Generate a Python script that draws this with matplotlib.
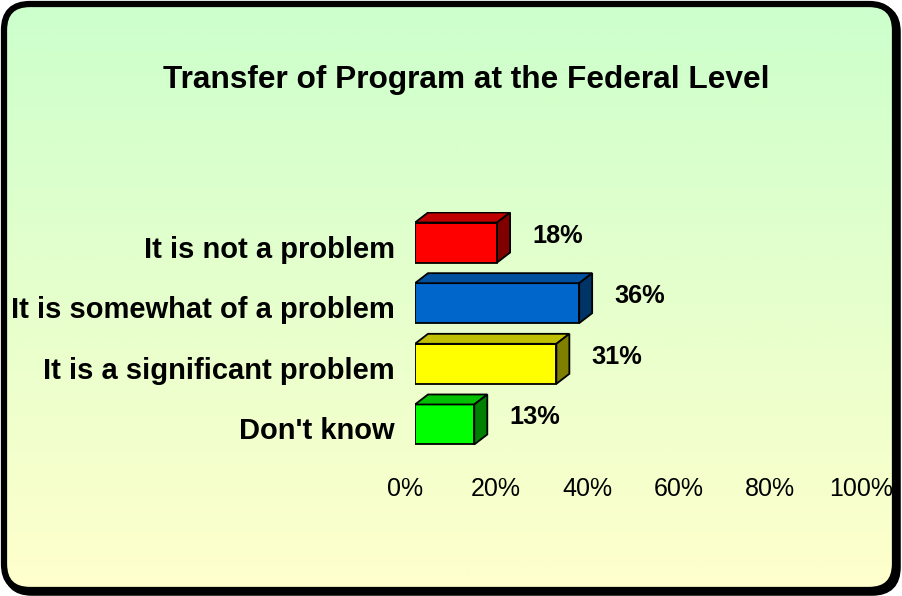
import numpy as np
import matplotlib
matplotlib.use("Agg")
import matplotlib.pyplot as plt
from matplotlib.patches import Rectangle, Polygon, FancyBboxPatch

# ---- data ----
title = "Transfer of Program at the Federal Level"
categories = ["It is not a problem", "It is somewhat of a problem",
              "It is a significant problem", "Don't know"]
values = [18, 36, 31, 13]
value_labels = ["18%", "36%", "31%", "13%"]
tick_values = [0, 20, 40, 60, 80, 100]
tick_labels = ["0%", "20%", "40%", "60%", "80%", "100%"]

front_colors = ["#FF0000", "#0066CC", "#FFFF00", "#00FF00"]
top_colors = ["#C00000", "#0050A0", "#C0C000", "#00C000"]
side_colors = ["#800000", "#003366", "#808000", "#008000"]

W, H = 902, 596
DPI = 100
plt.rcParams['font.family'] = ['Liberation Sans', 'DejaVu Sans']
fig = plt.figure(figsize=(W / DPI, H / DPI), dpi=DPI)
fig.patch.set_facecolor("white")

# ---- background frame with gradient ----
bg = fig.add_axes([0, 0, 1, 1])
bg.set_xlim(0, W)
bg.set_ylim(H, 0)
bg.axis("off")
grad = np.linspace(0, 1, 256).reshape(-1, 1)
top_c = np.array([204, 255, 204]) / 255
bot_c = np.array([255, 255, 204]) / 255
img = top_c[None, None, :] * (1 - grad[:, :, None]) + bot_c[None, None, :] * grad[:, :, None]
shadow = FancyBboxPatch((6, 6), 892, 587, boxstyle="round,pad=0,rounding_size=26",
                        facecolor="black", edgecolor="black", lw=4)
bg.add_patch(shadow)
frame = FancyBboxPatch((4, 4), 891, 586, boxstyle="round,pad=0,rounding_size=26",
                       facecolor="none", edgecolor="black", lw=4.5, zorder=3)
im = bg.imshow(img, extent=[4, 895, 590, 4], aspect="auto", zorder=2)
clip = FancyBboxPatch((4, 4), 891, 586, boxstyle="round,pad=0,rounding_size=26",
                      facecolor="none", edgecolor="none", transform=bg.transData)
im.set_clip_path(clip)
bg.add_patch(frame)

bg.text(466, 80, title, ha="center", va="center", fontsize=22.8, fontweight="bold")

# ---- main axes ----
x0_px, x1_px = 415, 871
y_top_px, y_bot_px = 212.2, 454.8
ax = fig.add_axes([x0_px / W, (H - y_bot_px) / H, (x1_px - x0_px) / W, (y_bot_px - y_top_px) / H])
ax.set_xlim(0, 100)
ax.set_ylim(3.5, -0.5)
ax.axis("off")
ax.patch.set_alpha(0)

# depth offset in pixels -> data units
dx_px, dy_px = 13, 10
px_x = 100 / (x1_px - x0_px)
px_y = 4.0 / (y_bot_px - y_top_px)
ddx = dx_px * px_x
ddy = -dy_px * px_y
bar_h = 40 * px_y

for i, (v, fc, tc, sc) in enumerate(zip(values, front_colors, top_colors, side_colors)):
    top = i - bar_h / 2
    bot = i + bar_h / 2
    ax.add_patch(Rectangle((0, top), v, bar_h, facecolor=fc, edgecolor="black", lw=1.3, zorder=3))
    ax.add_patch(Polygon([(0, top), (v, top), (v + ddx, top + ddy), (ddx, top + ddy)],
                         closed=True, facecolor=tc, edgecolor="black", lw=1.3, zorder=3))
    ax.add_patch(Polygon([(v, top), (v, bot), (v + ddx, bot + ddy), (v + ddx, top + ddy)],
                         closed=True, facecolor=sc, edgecolor="black", lw=1.3, zorder=3))
    ax.text(v + ddx + 22 * px_x, i - 7 * px_y, value_labels[i], ha="left", va="center",
            fontsize=18.3, fontweight="bold", zorder=4)
    ax.text(-20 * px_x, i + 7 * px_y, categories[i], ha="right", va="center",
            fontsize=21, fontweight="bold", zorder=4)

for tv, tl in zip(tick_values, tick_labels):
    ax.text(tv - 10 * px_x, 3.5 + 34 * px_y, tl, ha="center", va="center", fontsize=18)

fig.savefig("out.png", dpi=DPI)
